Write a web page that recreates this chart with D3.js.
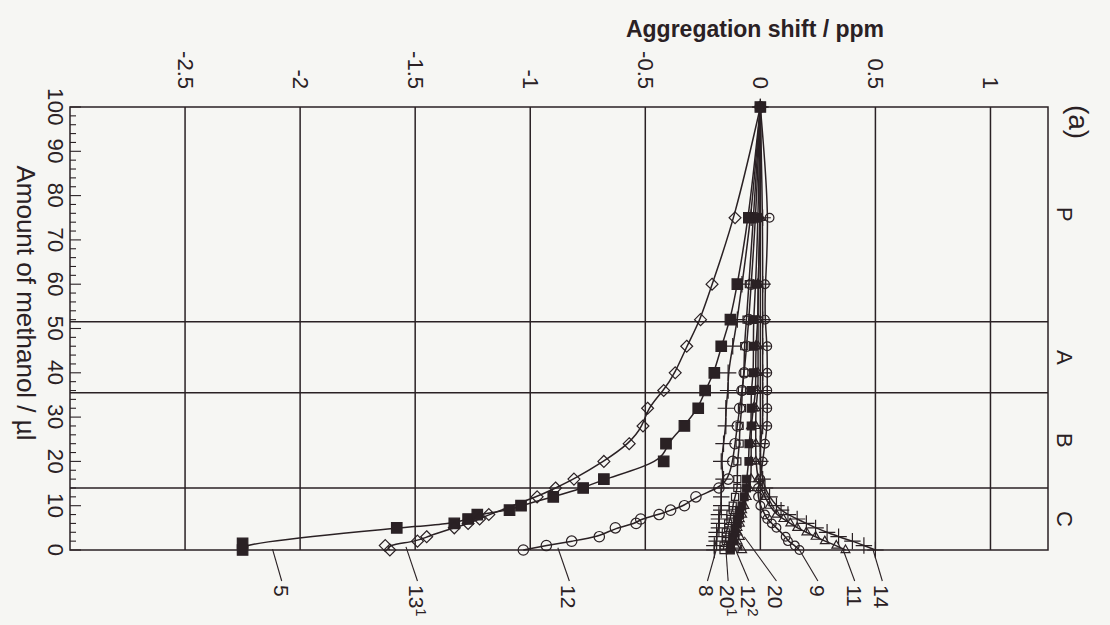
<!DOCTYPE html>
<html>
<head>
<meta charset="utf-8">
<script src="https://cdn.jsdelivr.net/npm/d3@7"></script>
<style>
  body { margin: 0; background: #f6f6f3; }
  text { font-family: "Liberation Sans", Arial, Helvetica, sans-serif; fill: #2a2124; }
</style>
</head>
<body>
<svg></svg>
<script>
// axis ticks
var shiftTicks = [-2.5, -2, -1.5, -1, -0.5, 0, 0.5, 1];
var methanolTicks = [0, 10, 20, 30, 40, 50, 60, 70, 80, 90, 100];
var regionBounds = [0, 14, 35.5, 51.5, 100];
var regionNames = ["C", "B", "A", "P"];

// series: [methanol µl, shift ppm]
var s5 = [[0,-2.25],[1.5,-2.25],[5,-1.58],[6,-1.33],[7,-1.27],[8,-1.23],[9,-1.09],[10,-1.04],[12,-0.90],[14,-0.77],[16,-0.68],[20,-0.42],[24,-0.41],[28,-0.33],[32,-0.27],[36,-0.24],[40,-0.20],[46,-0.17],[52,-0.13],[60,-0.10],[75,-0.05],[100,0]];
var s13 = [[0,-1.61],[1,-1.63],[2,-1.49],[3,-1.45],[5,-1.33],[6,-1.27],[7,-1.22],[8,-1.18],[12,-0.97],[14,-0.89],[16,-0.81],[20,-0.68],[24,-0.57],[28,-0.51],[32,-0.49],[36,-0.42],[40,-0.37],[46,-0.32],[52,-0.26],[60,-0.21],[75,-0.11],[100,0]];
var s12 = [[0,-1.03],[1,-0.93],[2,-0.82],[3,-0.70],[5,-0.63],[6,-0.54],[7,-0.52],[8,-0.44],[9,-0.39],[10,-0.33],[12,-0.28],[14,-0.18],[16,-0.14],[20,-0.12],[24,-0.11],[28,-0.10],[32,-0.09],[36,-0.08],[40,-0.07],[46,-0.06],[52,-0.05],[60,-0.04],[75,-0.02],[100,0]];
var s8 = [[0,-0.20],[1,-0.20],[2,-0.19],[3,-0.19],[4,-0.19],[5,-0.18],[6,-0.18],[7,-0.18],[8,-0.18],[9,-0.17],[10,-0.17],[12,-0.17],[14,-0.17],[16,-0.16],[20,-0.17],[24,-0.16],[28,-0.15],[32,-0.15],[36,-0.14],[40,-0.14],[46,-0.12],[52,-0.10],[60,-0.08],[75,-0.04],[100,0]];
var s20a = [[0,-0.16],[1,-0.16],[2,-0.15],[3,-0.15],[4,-0.15],[5,-0.14],[6,-0.14],[7,-0.13],[8,-0.13],[9,-0.12],[10,-0.12],[12,-0.11],[14,-0.10],[16,-0.10],[20,-0.10],[24,-0.09],[28,-0.09],[32,-0.08],[36,-0.08],[40,-0.07],[46,-0.07],[52,-0.06],[60,-0.05],[75,-0.03],[100,0]];
var s12b = [[0,-0.13],[1,-0.13],[2,-0.12],[3,-0.12],[4,-0.11],[5,-0.11],[6,-0.10],[7,-0.10],[8,-0.09],[9,-0.09],[10,-0.08],[12,-0.07],[14,-0.06],[16,-0.06],[20,-0.05],[24,-0.05],[28,-0.04],[32,-0.04],[36,-0.04],[40,-0.03],[46,-0.03],[52,-0.03],[60,-0.02],[75,-0.01],[100,0]];
var s20 = [[0,-0.08],[1,-0.10],[2,-0.10],[3,-0.09],[4,-0.10],[5,-0.10],[6,-0.09],[7,-0.09],[8,-0.08],[9,-0.08],[10,-0.07],[12,-0.06],[14,-0.05],[16,-0.04],[20,-0.04],[24,-0.04],[28,-0.04],[32,-0.03],[36,-0.02],[40,-0.02],[46,-0.02],[52,-0.01],[60,-0.01],[75,0],[100,0]];
var s9 = [[0,0.17],[1,0.15],[2,0.12],[3,0.11],[5,0.07],[6,0.05],[7,0.03],[8,0.02],[10,0],[12,-0.01],[14,-0.01],[16,0],[20,0.01],[24,0.02],[28,0.03],[32,0.03],[36,0.03],[40,0.03],[46,0.03],[52,0.02],[60,0.02],[75,0.04],[100,0]];
var s11 = [[0,0.37],[1,0.33],[2,0.28],[3,0.24],[4,0.20],[5,0.16],[6,0.13],[7,0.10],[8,0.07],[10,0.04],[12,0.02],[14,0],[16,-0.01],[20,-0.02],[24,-0.02],[28,-0.02],[32,-0.02],[36,-0.01],[40,-0.01],[46,-0.01],[52,-0.01],[60,-0.01],[75,0],[100,0]];
var s14 = [[0,0.50],[1,0.45],[2,0.40],[3,0.34],[4,0.29],[5,0.24],[6,0.20],[7,0.16],[8,0.12],[9,0.09],[10,0.07],[12,0.04],[14,0.02],[16,0.01],[20,0],[24,0],[28,0.01],[32,0.01],[36,0.01],[40,0.01],[46,0.01],[52,0.01],[60,0.01],[75,0.01],[100,0]];

// curve labels at the bottom
var labelNames = ["5", "13", "12", "8", "20", "12", "20", "9", "11", "14"];
var labelSups  = ["",  "1",  "",   "",  "1",  "2",  "",   "",  "",   ""];
var leaderFrom = [[-2.12,0.2],[-1.54,0.7],[-0.88,0.5],[-0.19,0.4],[-0.15,0.4],[-0.12,1.6],[-0.07,3],[0.17,0],[0.36,0],[0.49,0]];
var labelAt = [-2.08, -1.49, -0.83, -0.23, -0.14, -0.05, 0.07, 0.25, 0.41, 0.53];

var width = 1110, height = 625;
var ink = "#2a2124", paper = "#f6f6f3";

var series = [
  {data: s5,   sym: "square",   fill: true,  size: 110},
  {data: s13,  sym: "diamond",  fill: false, size: 90},
  {data: s12,  sym: "circle",   fill: false, size: 85},
  {data: s8,   sym: "plus",     fill: false, size: 90},
  {data: s20a, sym: "square",   fill: false, size: 50},
  {data: s12b, sym: "square",   fill: true,  size: 60},
  {data: s20,  sym: "triangle", fill: false, size: 60},
  {data: s9,   sym: "circle",   fill: false, size: 60},
  {data: s11,  sym: "triangle", fill: false, size: 55},
  {data: s14,  sym: "plus",     fill: false, size: 90}
];

var x = d3.scaleLinear().domain([-3, 1.25]).range([70, 1048]);
var y = d3.scaleLinear().domain([0, 100]).range([550, 107]);

var svg = d3.select("svg").attr("width", width).attr("height", height);
svg.append("rect").attr("width", width).attr("height", height).attr("fill", paper);

// grid
var grid = svg.append("g").attr("stroke", ink).attr("stroke-width", 1.5);
grid.selectAll(".vg").data(shiftTicks).join("line")
    .attr("x1", d => x(d)).attr("x2", d => x(d))
    .attr("y1", y(100)).attr("y2", y(0));
grid.selectAll(".hg").data(regionBounds.slice(1, -1)).join("line")
    .attr("x1", x(-3)).attr("x2", x(1.25))
    .attr("y1", d => y(d)).attr("y2", d => y(d));
grid.append("rect")
    .attr("x", x(-3)).attr("y", y(100))
    .attr("width", x(1.25) - x(-3)).attr("height", y(0) - y(100))
    .attr("fill", "none");

// methanol axis minor/major ticks, inward
grid.selectAll(".mt").data(d3.range(0, 101, 2)).join("line")
    .attr("x1", x(-3)).attr("x2", d => x(-3) + (d % 10 === 0 ? 11 : 6))
    .attr("y1", d => y(d)).attr("y2", d => y(d))
    .attr("stroke-width", 1.1);

// tick labels (rotated like the scanned page)
svg.append("g").selectAll("text").data(shiftTicks).join("text")
    .attr("transform", d => `translate(${x(d)},89) rotate(90)`)
    .attr("text-anchor", "end")
    .attr("dominant-baseline", "central")
    .attr("font-size", 22)
    .text(d => String(d));

svg.append("g").selectAll("text").data(methanolTicks).join("text")
    .attr("transform", d => `translate(55,${y(d)}) rotate(90)`)
    .attr("text-anchor", "middle")
    .attr("dominant-baseline", "central")
    .attr("font-size", 22)
    .attr("letter-spacing", 0.5)
    .text(d => d);

svg.append("text")
    .attr("transform", "translate(26,303) rotate(90)")
    .attr("text-anchor", "middle")
    .attr("dominant-baseline", "central")
    .attr("font-size", 26)
    .text("Amount of methanol / µl");

svg.append("text")
    .attr("x", 755).attr("y", 37)
    .attr("text-anchor", "middle")
    .attr("font-size", 23)
    .attr("font-weight", "bold")
    .text("Aggregation shift / ppm");

// region letters
svg.append("g").selectAll("text").data(regionNames).join("text")
    .attr("transform", (d, i) => `translate(1064,${y((regionBounds[i] + regionBounds[i + 1]) / 2)}) rotate(90)`)
    .attr("text-anchor", "middle")
    .attr("dominant-baseline", "central")
    .attr("font-size", 22)
    .text(d => d);

svg.append("text")
    .attr("transform", "translate(1078,122) rotate(90)")
    .attr("text-anchor", "middle")
    .attr("dominant-baseline", "central")
    .attr("font-size", 28)
    .text("(a)");

// curves
var line = d3.line()
    .x(d => x(d[1]))
    .y(d => y(d[0]))
    .curve(d3.curveBasis);

function symType(s) {
  if (s === "square") return d3.symbolSquare;
  if (s === "diamond") return d3.symbolDiamond2 || d3.symbolSquare;
  if (s === "circle") return d3.symbolCircle;
  if (s === "plus") return d3.symbolPlus || d3.symbolCross;
  return d3.symbolTriangle2 || d3.symbolTriangle;
}

var plot = svg.append("g");
plot.selectAll(".curve").data(series).join("path")
    .attr("d", d => line(d.data))
    .attr("fill", "none")
    .attr("stroke", ink)
    .attr("stroke-width", 1.5);

series.forEach(function(s) {
  var sym = d3.symbol().type(symType(s.sym)).size(s.size);
  plot.append("g").selectAll("path").data(s.data).join("path")
      .attr("transform", d => `translate(${x(d[1])},${y(d[0])})`)
      .attr("d", sym)
      .attr("fill", s.fill ? ink : "none")
      .attr("stroke", ink)
      .attr("stroke-width", 1.2);
});

// leaders and curve labels
var labels = svg.append("g");
labels.selectAll("line").data(labelNames).join("line")
    .attr("x1", (d, i) => x(leaderFrom[i][0]))
    .attr("y1", (d, i) => y(leaderFrom[i][1]))
    .attr("x2", (d, i) => x(labelAt[i]))
    .attr("y2", 581)
    .attr("stroke", ink)
    .attr("stroke-width", 1.1);

var lt = labels.selectAll("text").data(labelNames).join("text")
    .attr("transform", (d, i) => `translate(${x(labelAt[i])},585) rotate(90)`)
    .attr("dominant-baseline", "central")
    .attr("font-size", 21);
lt.append("tspan").text(d => d);
lt.append("tspan")
    .attr("font-size", 15)
    .attr("dy", -5)
    .text((d, i) => labelSups[i]);
</script>
</body>
</html>
